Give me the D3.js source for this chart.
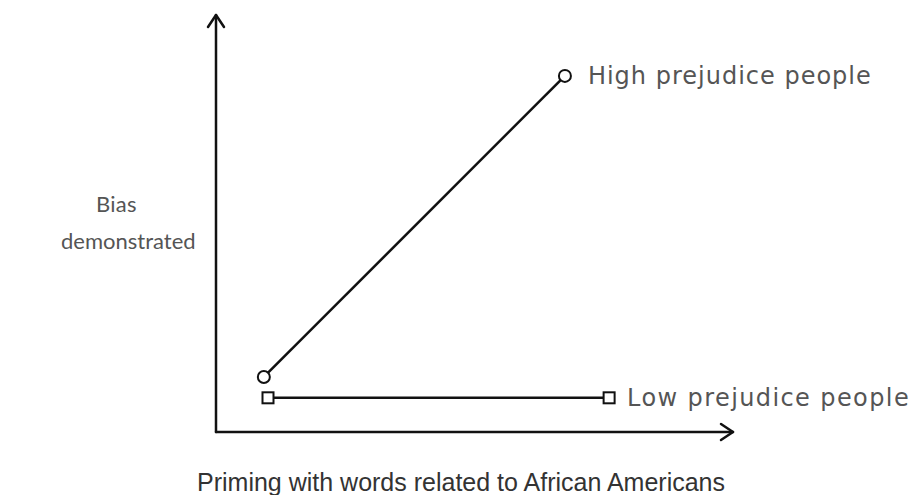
<!DOCTYPE html>
<html><head><meta charset="utf-8">
<script src="https://cdn.jsdelivr.net/npm/d3@7"></script>
<style>html,body{margin:0;padding:0;background:#fff;}</style>
</head><body>
<svg id="chart" width="920" height="495"></svg>
<script>
const seriesNames = ["High prejudice people", "Low prejudice people"];
const highX = [9.2, 67.1];
const highY = [13.2, 85.4];
const lowX = [10, 75.6];
const lowY = [8.2, 8.2];
const yTitle = ["Bias", "demonstrated"];
const xTitle = "Priming with words related to African Americans";

const svg = d3.select("#chart");
const x = d3.scaleLinear().domain([0, 100]).range([216, 736]);
const y = d3.scaleLinear().domain([0, 100]).range([432, 15]);

// axes
const ax = svg.append("g").attr("stroke", "#111").attr("stroke-width", 2.5).attr("fill", "none").attr("stroke-linecap","round").attr("stroke-linejoin","round");
ax.append("line").attr("x1", x(0)).attr("y1", y(0)).attr("x2", x(0)).attr("y2", y(100));
ax.append("path").attr("d", `M${x(0)-8},${y(100)+12}L${x(0)},${y(100)}L${x(0)+8},${y(100)+12}`);
ax.append("line").attr("x1", x(0)).attr("y1", y(0)).attr("x2", x(100)-3).attr("y2", y(0));
ax.append("path").attr("d", `M${x(100)-15},${y(0)-8}L${x(100)-3},${y(0)}L${x(100)-15},${y(0)+8}`);

const line = d3.line().x(d => x(d[0])).y(d => y(d[1]));
const high = d3.zip(highX, highY);
const low = d3.zip(lowX, lowY);

svg.append("path").attr("d", line(high)).attr("stroke", "#111").attr("stroke-width", 2.5).attr("fill", "none");
svg.append("path").attr("d", line(low)).attr("stroke", "#111").attr("stroke-width", 2.5).attr("fill", "none");

svg.selectAll("circle.m").data(high).enter().append("circle")
  .attr("cx", d => x(d[0])).attr("cy", d => y(d[1])).attr("r", 6)
  .attr("fill", "#fff").attr("stroke", "#111").attr("stroke-width", 2);
svg.selectAll("rect.m").data(low).enter().append("rect")
  .attr("x", d => x(d[0]) - 5.5).attr("y", d => y(d[1]) - 5.5).attr("width", 11).attr("height", 11)
  .attr("fill", "#fff").attr("stroke", "#111").attr("stroke-width", 2);

function lbl(sel, fam, size, ls) {
  return sel.attr("font-family", fam).attr("font-size", size + "px")
    .attr("letter-spacing", ls + "px").attr("fill", "#555");
}
const dj = "'DejaVu Sans', sans-serif";
const lt = "Lato, 'Open Sans', sans-serif";

lbl(svg.append("text"), dj, 24, 1).attr("x", x(highX[1]) + 23).attr("y", y(highY[1]) + 8).text(seriesNames[0]);
lbl(svg.append("text"), dj, 24, 1.4).attr("x", x(lowX[1]) + 18).attr("y", y(lowY[1]) + 8).text(seriesNames[1]);

lbl(svg.append("text"), lt, 22, 0.3).attr("x", 96).attr("y", 212).text(yTitle[0]);
lbl(svg.append("text"), lt, 22, 0).attr("x", 61).attr("y", 249).text(yTitle[1]);

svg.append("text").attr("x", 461).attr("y", 491).attr("text-anchor", "middle")
  .attr("font-family", "'Liberation Sans', Arial, sans-serif").attr("font-size", "25px").attr("fill", "#333").text(xTitle);
</script>
</body></html>
